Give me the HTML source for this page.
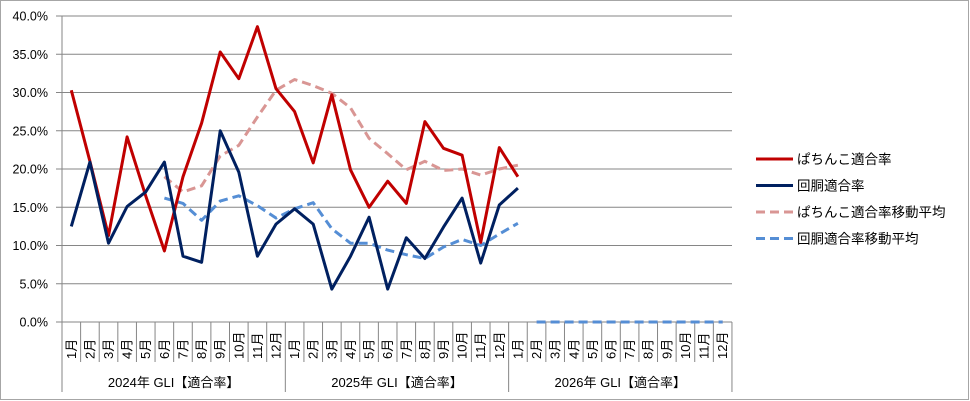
<!DOCTYPE html>
<html><head><meta charset="utf-8"><style>
html,body{margin:0;padding:0;background:#fff}
svg{display:block;font-family:"Liberation Sans","Noto Sans CJK JP",sans-serif}
</style></head><body>
<svg id="c" width="970" height="401" xmlns="http://www.w3.org/2000/svg"></svg>
<script>
const s=document.getElementById('c');
const X0=62,W=18.61,Y0=322,K=7.65;
const cx=i=>X0+W*(i+0.5), cy=v=>Y0-v*K;
let h='<rect x="0.5" y="0.5" width="968" height="399" fill="#fff" stroke="#a6a6a6"/>';
for(let k=0;k<=8;k++){const y=Y0-k*5*K;h+=`<line x1="56" x2="732" y1="${y}" y2="${y}" stroke="#868686" stroke-width="1"/>`;
h+=`<text x="48" y="${y+4.5}" font-size="12.5" text-anchor="end" fill="#000">${(k*5).toFixed(1)}%</text>`;}
h+=`<line x1="${X0}" x2="${X0}" y1="16" y2="392" stroke="#868686"/>`;
for(let i=1;i<=36;i++){const x=X0+W*i;const big=(i%12==0);h+=`<line x1="${x}" x2="${x}" y1="322" y2="${big?392:362}" stroke="#868686"/>`;}
for(let i=0;i<36;i++){const m=(i%12)+1;h+=`<text transform="translate(${cx(i)+4.5},359) rotate(-90)" font-size="13" fill="#000">${m}月</text>`;}
['2024','2025','2026'].forEach((y,g)=>{h+=`<text x="${X0+W*(g*12+6)}" y="387" font-size="13" text-anchor="middle" fill="#000">${y}年 GLI【適合率】</text>`;});
const line=(d,st,col,dash)=>{let p=d.map((v,i)=>v==null?null:`${cx(i+st).toFixed(1)},${cy(v).toFixed(1)}`).filter(Boolean).join(' ');return `<polyline points="${p}" fill="none" stroke="${col}" stroke-width="3" stroke-linejoin="round" ${dash?'stroke-dasharray="9,5"':''}/>`;};
const red=[30.3,21,11.3,24.2,16.5,9.3,19,26,35.3,31.8,38.6,30.5,27.5,20.8,29.7,19.9,15,18.4,15.5,26.2,22.7,21.8,10.4,22.8,19.0];
const navy=[12.5,20.9,10.3,15.1,17,20.9,8.6,7.8,25,19.6,8.6,12.8,14.8,12.8,4.3,8.6,13.7,4.3,11,8.3,12.4,16.2,7.7,15.3,17.5];
const pink=[19,17,17.8,21.7,23.1,26.8,30.3,31.7,30.9,29.9,28,24,22,19.9,21,19.8,20,19.2,20,20.5];
const blue=[16.2,15.5,13.3,15.8,16.5,15.2,13.6,14.8,15.6,12.2,10.3,10.3,9.4,8.8,8.3,9.8,10.8,10.0,11.5,12.9];
const zero=Array(11).fill(0);
h+=line(zero,25,'#e6a0a0',true)+line(zero,25,'#558ed5',true);
h+=line(pink,5,'#d99694',true)+line(blue,5,'#558ed5',true);
h+=line(red,0,'#c00000',false)+line(navy,0,'#002060',false);
const lg=[['ぱちんこ適合率','#c00000',0],['回胴適合率','#002060',0],['ぱちんこ適合率移動平均','#d99694',1],['回胴適合率移動平均','#558ed5',1]];
lg.forEach((l,i)=>{const y=159+i*26.5;h+=`<line x1="756" x2="793" y1="${y}" y2="${y}" stroke="${l[1]}" stroke-width="3" ${l[2]?'stroke-dasharray="9,5"':''}/>`;
h+=`<text x="797" y="${y+5}" font-size="13.5" fill="#000">${l[0]}</text>`;});
s.innerHTML=h;
</script>
</body></html>
